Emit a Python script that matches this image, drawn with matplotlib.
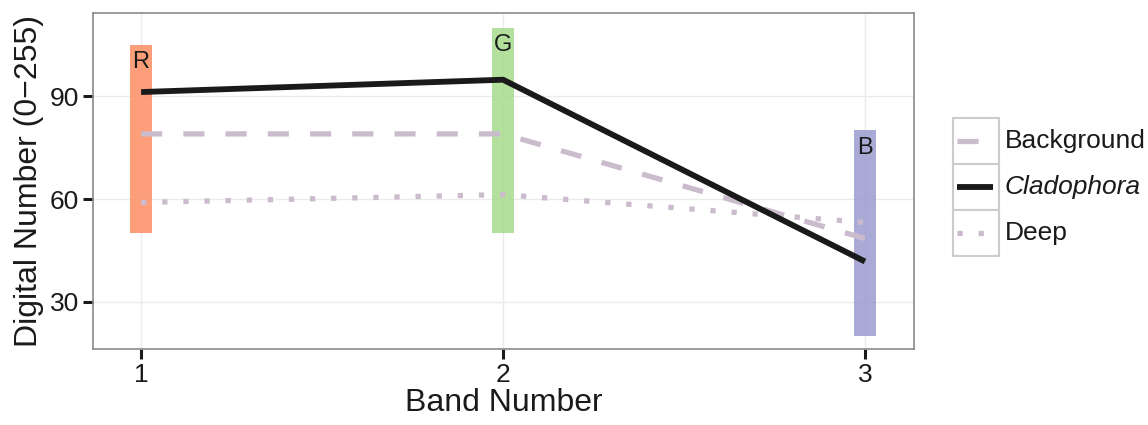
import matplotlib.pyplot as plt
from matplotlib.patches import Rectangle
from matplotlib.lines import Line2D

plt.rcParams['font.family'] = ['Liberation Sans', 'DejaVu Sans']

# band rectangles (R, G, B)
band_x = [1, 2, 3]
band_lo = [50, 50, 20]
band_hi = [105, 110, 80]
band_names = ["R", "G", "B"]
band_colors = ["#fc8d62", "#a6dc8c", "#9b9bd0"]

# spectral profiles
bands = [1, 2, 3]
background = [79, 79, 48.5]
cladophora = [91.2, 94.8, 41.8]
deep = [59, 61.3, 53.2]

fig = plt.figure(figsize=(11.48, 4.25), dpi=100)
ax = fig.add_axes([0.081, 0.179, 0.715, 0.790])

for x, lo, hi, name, c in zip(band_x, band_lo, band_hi, band_names, band_colors):
    ax.add_patch(Rectangle((x - 0.03, lo), 0.06, hi - lo, facecolor=c,
                           edgecolor='none', alpha=0.85, zorder=1))
    ax.text(x, hi - 5, name, ha='center', va='center', fontsize=17,
            color='#1a1a1a', zorder=4)

line_col = '#cbbccd'
dash = (4, 4)
dot = (1, 3)
ax.plot(bands, background, color=line_col, lw=3.8, dashes=dash,
        dash_capstyle='butt', zorder=3)
ax.plot(bands, deep, color=line_col, lw=3.8, dashes=dot,
        dash_capstyle='butt', zorder=3)
ax.plot(bands, cladophora, color='#1a1a1a', lw=4.2,
        solid_capstyle='butt', zorder=3)

ax.set_xlim(0.867, 3.135)
ax.set_ylim(16.3, 114.2)
ax.set_xticks([1, 2, 3])
ax.set_yticks([30, 60, 90])
ax.grid(True, color='#ebebeb', lw=1.0, zorder=0)
ax.set_axisbelow(True)
for s in ax.spines.values():
    s.set_color('#8a8a8a')
    s.set_linewidth(1.2)
ax.tick_params(length=7, width=2.2, color='#1a1a1a', labelsize=19,
               labelcolor='#1a1a1a', pad=3)
ax.set_xlabel("Band Number", fontsize=23, color='#1a1a1a', labelpad=1)
ax.set_ylabel("Digital Number (0\u2212255)", fontsize=23, color='#1a1a1a',
              labelpad=4)

# legend drawn as ggplot-style keys
labels = ["Background", "Cladophora", "Deep"]
styles = [dict(color=line_col, lw=3.8, dashes=dash),
          dict(color='#1a1a1a', lw=4.2),
          dict(color=line_col, lw=3.8, dashes=dot)]
W, H = 1148, 425
kx0, kx1 = 953, 999
ktops = [118, 164, 210]
for lab, st, top in zip(labels, styles, ktops):
    fig.add_artist(Rectangle((kx0 / W, 1 - (top + 46) / H), (kx1 - kx0) / W,
                             46 / H, transform=fig.transFigure,
                             facecolor='white', edgecolor='#cccccc', lw=1.5))
    yc = 1 - (top + 23) / H
    fig.add_artist(Line2D([957 / W, 993 / W], [yc, yc], transform=fig.transFigure,
                          solid_capstyle='butt', dash_capstyle='butt', **st))
    fig.text(1005 / W, yc, lab, fontsize=19, va='center', ha='left',
             color='#1a1a1a', style='italic' if lab == "Cladophora" else 'normal')

fig.savefig("out.png", dpi=100)
